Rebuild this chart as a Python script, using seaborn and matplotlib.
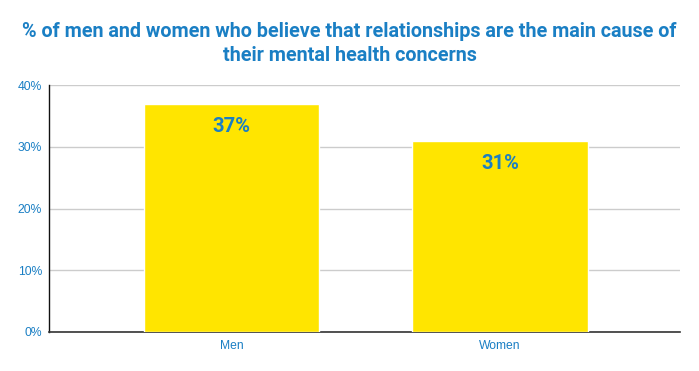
import matplotlib
matplotlib.use("Agg")
import matplotlib.pyplot as plt
import seaborn as sns
import pandas as pd
from matplotlib.ticker import FuncFormatter

categories = ["Men", "Women"]
values = [37, 31]
title = "% of men and women who believe that relationships are the main cause of\ntheir mental health concerns"

BLUE = "#1a7fc4"
YELLOW = "#FFE500"

sns.set_theme(style="white")
plt.rcParams['font.family'] = ['Roboto', 'DejaVu Sans']

df = pd.DataFrame({"cat": categories, "val": values})

fig = plt.figure(figsize=(6.99, 3.71), dpi=100)
ax = fig.add_axes([49/699, 1-332/371, (680-49)/699, (332-85)/371])

sns.barplot(data=df, x="cat", y="val", color=YELLOW, saturation=1, width=0.653, ax=ax, zorder=3)

ax.set_xlim(-0.68, 1.67)
ax.set_ylim(0, 40)
ax.set_yticks([0, 10, 20, 30, 40])
ax.yaxis.set_major_formatter(FuncFormatter(lambda v, p: f"{int(v)}%"))
ax.grid(axis="y", color="#cccccc", linewidth=1, zorder=0)
ax.set_axisbelow(True)
for s in ["top", "right"]:
    ax.spines[s].set_visible(False)
ax.spines["left"].set_color("#111111")
ax.spines["bottom"].set_color("#333333")
ax.spines["left"].set_linewidth(1)
ax.spines["bottom"].set_linewidth(1.2)
ax.set_xlabel("")
ax.set_ylabel("")
ax.tick_params(axis="both", length=0, pad=5)
for lab in ax.get_yticklabels() + ax.get_xticklabels():
    lab.set_fontfamily(['Liberation Sans', 'DejaVu Sans'])
    lab.set_fontsize(8.7)
    lab.set_color(BLUE)
ax.tick_params(axis="x", pad=6)

for p, v in zip(ax.patches, values):
    x = p.get_x() + p.get_width() / 2
    ax.annotate(f"{v}%", (x, p.get_height()), xytext=(0, -9.5), textcoords="offset points",
                ha="center", va="top", fontsize=14.5, fontweight="bold", color=BLUE)

fig.text(0.5, 1-43.5/371, title, ha="center", va="center", fontsize=14.2, fontweight="bold",
         color=BLUE, linespacing=1.38)

fig.savefig("out.png", dpi=100)
